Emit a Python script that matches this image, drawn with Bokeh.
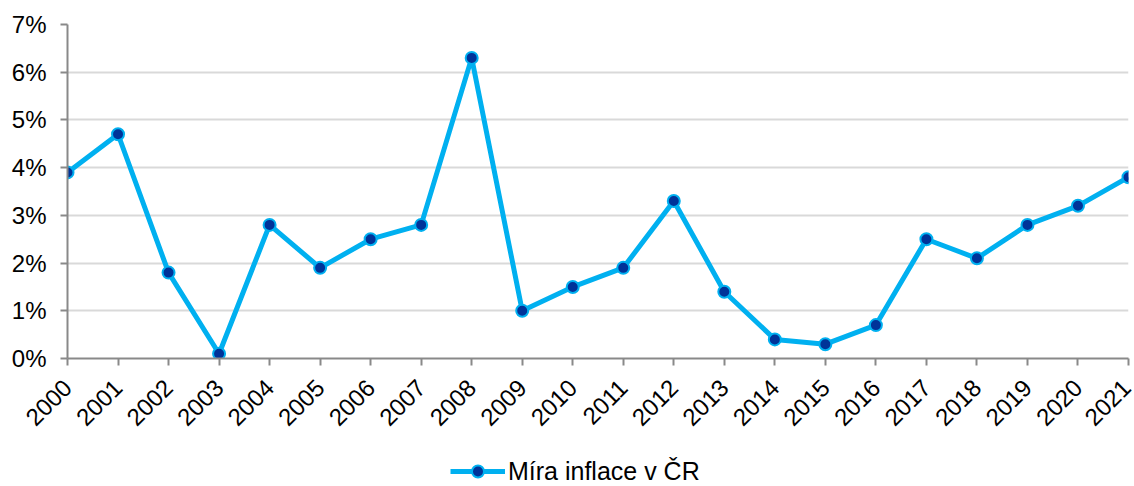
from math import pi
from bokeh.plotting import figure
from bokeh.layouts import column
from bokeh.models import (ColumnDataSource, FixedTicker, PrintfTickFormatter,
                          Legend, LegendItem, Range1d)
from bokeh.embed import file_html
from bokeh.resources import INLINE

years = list(range(2000, 2022))
inflation = [3.9, 4.7, 1.8, 0.1, 2.8, 1.9, 2.5, 2.8, 6.3, 1.0, 1.5,
             1.9, 3.3, 1.4, 0.4, 0.3, 0.7, 2.5, 2.1, 2.8, 3.2, 3.8]
series_name = "Míra inflace v ČR"
y_ticks = [0, 1, 2, 3, 4, 5, 6, 7]

LINE_C = "#00B0F0"
MARK_C = "#003399"
FONT = "Liberation Sans"

src = ColumnDataSource(dict(x=years, y=inflation))

p = figure(width=1132, height=444, output_backend="svg", toolbar_location=None,
           x_range=Range1d(2000, 2021), y_range=Range1d(0, 7),
           min_border_left=67, min_border_right=4, min_border_top=24,
           min_border_bottom=86)
p.outline_line_color = None

p.line("x", "y", source=src, line_color=LINE_C, line_width=5)
p.scatter("x", "y", source=src, size=12, fill_color=MARK_C,
          line_color=LINE_C, line_width=2)

p.xgrid.grid_line_color = None
p.ygrid.grid_line_color = "#D9D9D9"
p.ygrid.grid_line_width = 2

p.yaxis.ticker = FixedTicker(ticks=y_ticks)
p.yaxis.formatter = PrintfTickFormatter(format="%d%%")
p.xaxis.ticker = FixedTicker(ticks=years)
p.xaxis.major_label_orientation = pi / 4

for ax in (p.xaxis[0], p.yaxis[0]):
    ax.axis_line_color = "#898989"
    ax.axis_line_width = 2
    ax.major_tick_line_color = "#898989"
    ax.major_tick_line_width = 2
    ax.major_tick_out = 7
    ax.major_tick_in = 0
    ax.minor_tick_line_color = None
    ax.major_label_text_font = FONT
    ax.major_label_text_font_size = "24px"
    ax.major_label_text_color = "black"
p.yaxis.major_label_standoff = 14
p.xaxis.major_label_standoff = 18

# legend strip below the chart
lf = figure(width=1132, height=42, output_backend="svg", toolbar_location=None,
            x_range=Range1d(0, 1), y_range=Range1d(0, 1),
            min_border=0)
lf.axis.visible = False
lf.grid.visible = False
lf.outline_line_color = None
lr = lf.line([-5, -4], [-5, -4], line_color=LINE_C, line_width=5)
ls = lf.scatter([-5], [-5], size=13, fill_color=MARK_C,
                line_color=LINE_C, line_width=2)
legend = Legend(items=[LegendItem(label=series_name, renderers=[lr, ls])],
                location=(383, 0), orientation="horizontal",
                label_text_font=FONT, label_text_font_size="25px",
                label_text_color="black", label_standoff=3,
                glyph_width=55, glyph_height=30, label_height=30,
                padding=0, margin=0,
                border_line_color=None, background_fill_alpha=0)
lf.add_layout(legend, "center")

open("out.html", "w").write(file_html(column(p, lf, spacing=0), INLINE))
